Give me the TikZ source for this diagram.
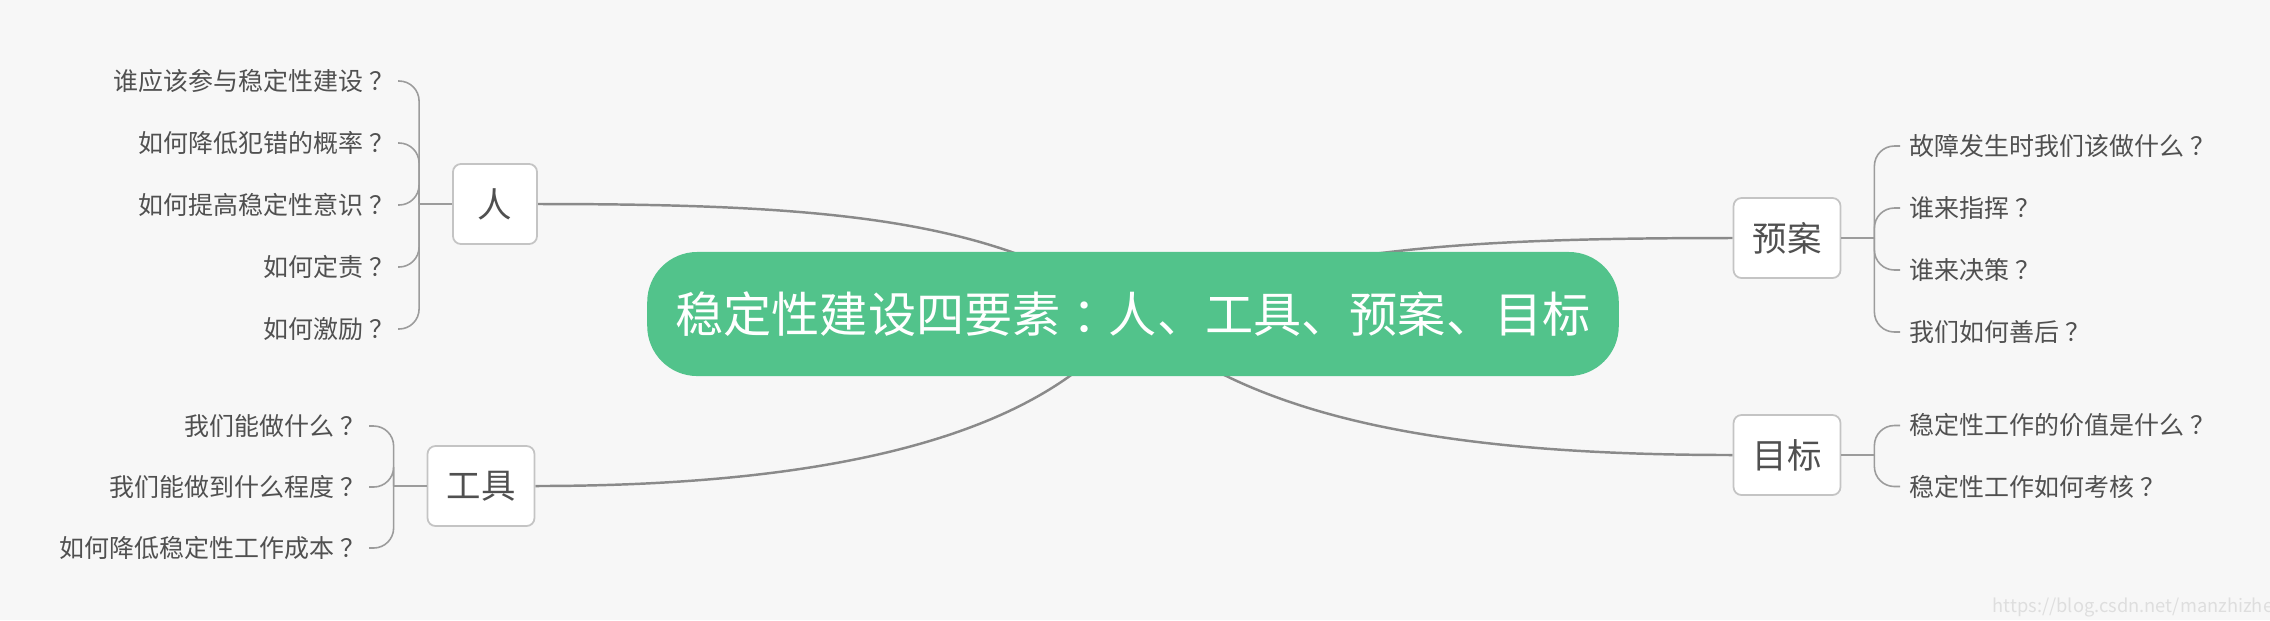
\documentclass[tikz,border=0pt]{standalone}
\usepackage{fontspec}
\setmainfont{Noto Sans CJK SC}
\usetikzlibrary{backgrounds}

% centre the full-width ？ and ： in their em box
\XeTeXinterchartokenstate=1
\newXeTeXintercharclass\puncclass
\XeTeXcharclass`？=\puncclass
\XeTeXcharclass`：=\puncclass
\XeTeXinterchartoks 0 \puncclass={\kern0.24em}
\XeTeXinterchartoks 1 \puncclass={\kern0.24em}
\XeTeXinterchartoks \puncclass 0={\kern-0.24em}
\XeTeXinterchartoks \puncclass 1={\kern-0.24em}
\XeTeXinterchartoks \puncclass 4095={\kern-0.24em}

\definecolor{paper}{HTML}{F7F7F7}
\definecolor{rootgreen}{HTML}{52C38B}
\definecolor{inkgray}{HTML}{505050}
\definecolor{linegray}{HTML}{8A8A8A}
\definecolor{boxgray}{HTML}{C4C4C4}

\begin{document}
\begin{tikzpicture}[
  x=0.01cm, y=-0.01cm,
  rootstyle/.style={fill=rootgreen, rounded corners=0.5cm, text=white, minimum width=9.71cm, minimum height=1.24cm, inner sep=0pt, font=\fontsize{13.7pt}{16pt}\selectfont},
  topicstyle/.style={draw=boxgray, line width=0.5pt, fill=white, rounded corners=0.08cm, text=inkgray, minimum width=0.84cm, minimum height=0.8cm, inner xsep=0.19cm, font=\fontsize{9.8pt}{12pt}\selectfont},
  leafstyle/.style={text=inkgray, inner xsep=0.09cm, inner ysep=0pt, font=\fontsize{7.1pt}{8.5pt}\selectfont},
  branchline/.style={draw=linegray, line width=0.7pt},
  bracketline/.style={draw=linegray!85, line width=0.45pt, rounded corners=0.2cm},
]

\useasboundingbox (0,0) rectangle (2270,620);

% --- central topic ---
\node[rootstyle] (root) at (1133,314) {稳定性建设四要素：人、工具、预案、目标};

% --- main topics ---
\node[topicstyle] (ren)    at (495,204)  {人};
\node[topicstyle] (gongju) at (481,486)  {工具};
\node[topicstyle] (yuan)   at (1787,238) {预案};
\node[topicstyle] (mubiao) at (1787,455) {目标};

% bracket hubs
\coordinate (renhub)    at ([xshift=-0.33cm]ren.west);
\coordinate (gongjuhub) at ([xshift=-0.33cm]gongju.west);
\coordinate (yuanhub)   at ([xshift=0.33cm]yuan.east);
\coordinate (mubiaohub) at ([xshift=0.33cm]mubiao.east);

% --- leaves of ren ---
\draw[bracketline] (ren.west) -- (renhub);
\foreach \txt [count=\i] in {谁应该参与稳定性建设？, 如何降低犯错的概率？, 如何提高稳定性意识？, 如何定责？, 如何激励？} {
  \node[leafstyle, anchor=east] (ren-\i) at (398,{205+(\i-3)*62}) {\txt};
  \draw[bracketline] (renhub) |- (ren-\i.east);
}

% --- leaves of gongju ---
\draw[bracketline] (gongju.west) -- (gongjuhub);
\foreach \txt [count=\i] in {我们能做什么？, 我们能做到什么程度？, 如何降低稳定性工作成本？} {
  \node[leafstyle, anchor=east] (gongju-\i) at (369,{487+(\i-2)*61}) {\txt};
  \draw[bracketline] (gongjuhub) |- (gongju-\i.east);
}

% --- leaves of yuan ---
\draw[bracketline] (yuan.east) -- (yuanhub);
\foreach \txt [count=\i] in {故障发生时我们该做什么？, 谁来指挥？, 谁来决策？, 我们如何善后？} {
  \node[leafstyle, anchor=west] (yuan-\i) at (1900,{239+(\i-2.5)*62}) {\txt};
  \draw[bracketline] (yuanhub) |- (yuan-\i.west);
}

% --- leaves of mubiao ---
\draw[bracketline] (mubiao.east) -- (mubiaohub);
\foreach \txt [count=\i] in {稳定性工作的价值是什么？, 稳定性工作如何考核？} {
  \node[leafstyle, anchor=west] (mubiao-\i) at (1900,{456+(\i-1.5)*61}) {\txt};
  \draw[bracketline] (mubiaohub) |- (mubiao-\i.west);
}

% watermark, cut at the right edge
\begin{scope}
  \clip (0,0) rectangle (2270,620);
  \node[font=\fontsize{5.2pt}{6pt}\selectfont, text=black!13, anchor=west, inner sep=0pt] (mark) at (1992,607) {https://blog.csdn.net/manzhizhen};
\end{scope}

% --- branches, behind the central topic ---
\begin{pgfonlayer}{background}
  \fill[paper] (0,0) rectangle (2270,620);
  \draw[branchline] (ren.east) .. controls (836,204) and (1000,220) .. (root.center);
  \draw[branchline] (gongju.east) .. controls (850,486) and (1050,430) .. (root.center);
  \draw[branchline] (yuan.west) .. controls (1450,238) and (1300,250) .. (root.center);
  \draw[branchline] (mubiao.west) .. controls (1450,455) and (1250,420) .. (root.center);
\end{pgfonlayer}

\end{tikzpicture}
\end{document}
